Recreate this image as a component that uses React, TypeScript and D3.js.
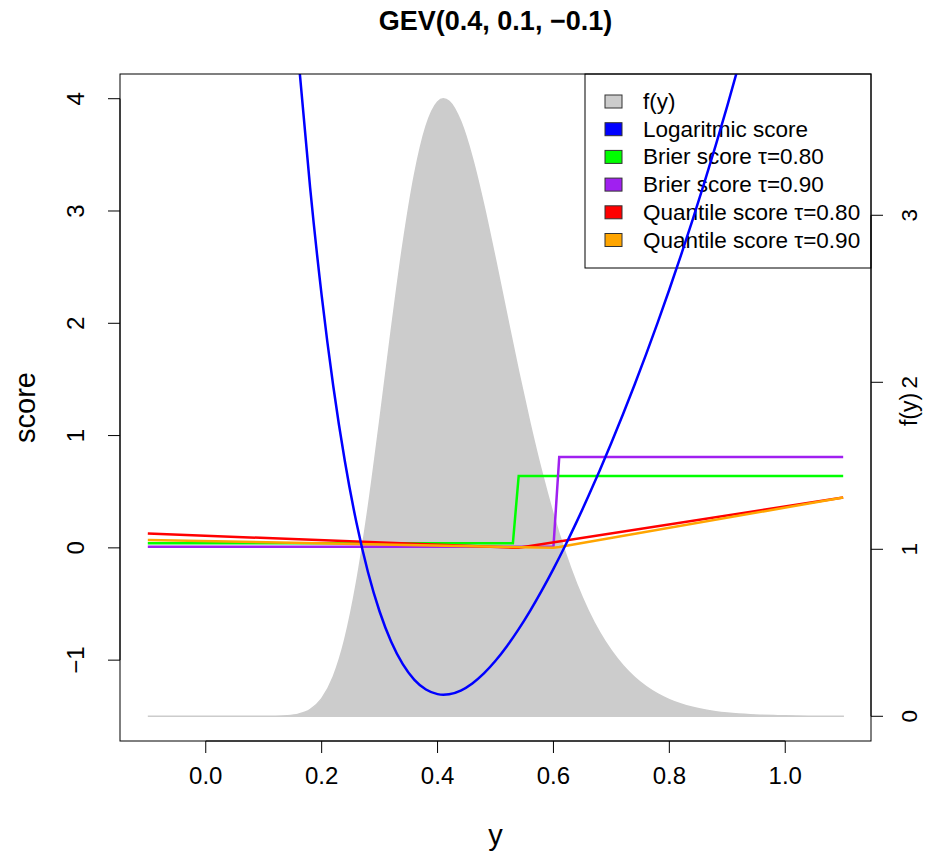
import React from 'react';
import * as d3 from 'd3';

// ---- data ----
const densityX = [-0.1, -0.08, -0.06, -0.04, -0.02, 0.0, 0.02, 0.04, 0.06, 0.08, 0.1, 0.12, 0.14, 0.16, 0.18, 0.2, 0.22, 0.24, 0.26, 0.28, 0.3, 0.32, 0.34, 0.36, 0.38, 0.4, 0.41, 0.42, 0.44, 0.46, 0.48, 0.5, 0.52, 0.54, 0.56, 0.58, 0.6, 0.62, 0.64, 0.66, 0.68, 0.7, 0.72, 0.74, 0.76, 0.78, 0.8, 0.82, 0.84, 0.86, 0.88, 0.9, 0.92, 0.94, 0.96, 0.98, 1.0, 1.02, 1.04, 1.06, 1.08, 1.1];
const densityF = [0, 0, 0, 0, 0, 0, 0, 0, 0, 0.000013, 0.000109, 0.000688, 0.003334, 0.01283, 0.04025, 0.1056, 0.23656, 0.46158, 0.7982, 1.24197, 1.7623, 2.30778, 2.81837, 3.23923, 3.53192, 3.67879, 3.698, 3.68286, 3.56211, 3.34377, 3.058, 2.73378, 2.39555, 2.0625, 1.74804, 1.46093, 1.20553, 0.98328, 0.79335, 0.63355, 0.50087, 0.3923, 0.30436, 0.23393, 0.17807, 0.13425, 0.10018, 0.07395, 0.054, 0.03896, 0.02776, 0.01951, 0.01351, 0.00921, 0.00618, 0.00407, 0.00262, 0.00165, 0.00102, 0.00061, 0.00035, 0.0002];

const logX = [0.1, 0.12, 0.14, 0.16, 0.18, 0.2, 0.22, 0.24, 0.26, 0.28, 0.3, 0.32, 0.34, 0.36, 0.38, 0.4, 0.41, 0.42, 0.44, 0.46, 0.48, 0.5, 0.52, 0.54, 0.56, 0.58, 0.6, 0.62, 0.64, 0.66, 0.68, 0.7, 0.72, 0.74, 0.76, 0.78, 0.8, 0.82, 0.84, 0.86, 0.88, 0.9, 0.92, 0.94, 0.96, 0.98];
const logScore = [9.1219, 7.2816, 5.7031, 4.3558, 3.2124, 2.2483, 1.4416, 0.7731, 0.2254, -0.2167, -0.5666, -0.8363, -1.0362, -1.1753, -1.2618, -1.3026, -1.3078, -1.3037, -1.2704, -1.2071, -1.1178, -1.0057, -0.8736, -0.7239, -0.5585, -0.3791, -0.1869, 0.0169, 0.2315, 0.4564, 0.6914, 0.9357, 1.1895, 1.4527, 1.7255, 2.0081, 2.3009, 2.6043, 2.9188, 3.2452, 3.5842, 3.9367, 4.3038, 4.6866, 5.0865, 5.5049];

const brier80X = [-0.1, 0.53, 0.54, 1.1];
const brier80 = [0.04, 0.04, 0.64, 0.64];
const brier90X = [-0.1, 0.6, 0.61, 1.1];
const brier90 = [0.01, 0.01, 0.81, 0.81];
const quant80X = [-0.1, 0.53, 0.54, 1.1];
const quant80 = [0.1279, 0.0019, 0.0006, 0.4486];
const quant90X = [-0.1, 0.6, 0.61, 1.1];
const quant90 = [0.0702, 0.0002, 0.0076, 0.4486];

const xTicks = [0, 0.2, 0.4, 0.6, 0.8, 1.0];
const scoreTicks = [-1, 0, 1, 2, 3, 4];
const fTicks = [0, 1, 2, 3];
const legendLabels = ['f(y)', 'Logaritmic score', 'Brier score \u03c4=0.80', 'Brier score \u03c4=0.90', 'Quantile score \u03c4=0.80', 'Quantile score \u03c4=0.90'];
const legendColors = ['#CCCCCC', '#0000FF', '#00FF00', '#A020F0', '#FF0000', '#FFA500'];
const title = 'GEV(0.4, 0.1, \u22120.1)';

const W = 927, H = 855;
const L = 120, R = 871, T = 74, B = 741;
const FONT = 'Liberation Sans, Arial, Helvetica, sans-serif';

export default function App() {
  const xMin = -0.1, xMax = 1.1;
  const xPad = (xMax - xMin) * 0.04;
  const x = d3.scaleLinear().domain([xMin - xPad, xMax + xPad]).range([L, R]);
  const sMin = -1.5, sMax = 4;
  const sPad = (sMax - sMin) * 0.04;
  const y = d3.scaleLinear().domain([sMin - sPad, sMax + sPad]).range([B, T]);
  const fMax = d3.max(densityF) as number;
  const fPad = fMax * 0.04;
  const yf = d3.scaleLinear().domain([-fPad, fMax + fPad]).range([B, T]);

  const area = d3.area<number>()
    .x((_, i) => x(densityX[i]))
    .y0(() => yf(0))
    .y1((d) => yf(d))
    .curve(d3.curveMonotoneX);

  const mkLine = (xs: number[], curve = d3.curveLinear) =>
    d3.line<number>().x((_, i) => x(xs[i])).y((d) => y(d)).curve(curve);

  const lines = [
    { xs: brier80X, vs: brier80, c: legendColors[2] },
    { xs: brier90X, vs: brier90, c: legendColors[3] },
    { xs: quant80X, vs: quant80, c: legendColors[4] },
    { xs: quant90X, vs: quant90, c: legendColors[5] },
  ];

  const tickLen = 12;
  const lgX = 585, lgY = 74, lgW = R - 585, lgH = 194;
  const rowH = 27.7;

  return (
    <svg width={W} height={H} style={{ position: 'absolute', left: 0, top: 0, background: '#fff' }} fontFamily={FONT}>
      <defs>
        <clipPath id="plotclip">
          <rect x={L} y={T} width={R - L} height={B - T} />
        </clipPath>
      </defs>
      <rect x={0} y={0} width={W} height={H} fill="#fff" />
      {/* density */}
      <path d={area(densityF) || ''} fill="#CCCCCC" stroke="#CCCCCC" strokeWidth={1.5} clipPath="url(#plotclip)" />

      {/* legend */}
      <rect x={lgX} y={lgY} width={lgW} height={lgH} fill="#fff" stroke="#000" strokeWidth={1} />
      {legendLabels.map((lab, i) => {
        const cy = 101.5 + i * rowH;
        return (
          <g key={lab}>
            <rect x={605} y={cy - 6.5} width={17} height={13} fill={legendColors[i]} stroke="#333" strokeWidth={1} />
            <text x={643} y={cy} dominantBaseline="central" fontSize={22.5} fill="#000">{lab}</text>
          </g>
        );
      })}

      {/* score lines */}
      <g clipPath="url(#plotclip)" fill="none" strokeWidth={2.5}>
        {lines.map((l, i) => (
          <path key={i} d={mkLine(l.xs)(l.vs) || ''} stroke={l.c} />
        ))}
        <path d={mkLine(logX, d3.curveMonotoneX)(logScore) || ''} stroke={legendColors[1]} />
      </g>

      {/* box */}
      <rect x={L} y={T} width={R - L} height={B - T} fill="none" stroke="#000" strokeWidth={1} />

      {/* bottom axis */}
      <line x1={x(xTicks[0])} x2={x(xTicks[xTicks.length - 1])} y1={B} y2={B} stroke="#000" />
      {xTicks.map((t) => (
        <g key={t}>
          <line x1={x(t)} x2={x(t)} y1={B} y2={B + tickLen} stroke="#000" />
          <text x={x(t)} y={784} textAnchor="middle" fontSize={24}>{t.toFixed(1)}</text>
        </g>
      ))}
      <text x={(L + R) / 2} y={845} textAnchor="middle" fontSize={29}>y</text>

      {/* left axis */}
      <line x1={L} x2={L} y1={y(scoreTicks[0])} y2={y(scoreTicks[scoreTicks.length - 1])} stroke="#000" />
      {scoreTicks.map((t) => (
        <g key={t}>
          <line x1={L} x2={L - tickLen} y1={y(t)} y2={y(t)} stroke="#000" />
          <text transform={`translate(${84},${y(t)}) rotate(-90)`} textAnchor="middle" fontSize={24}>{t < 0 ? '\u2212' + Math.abs(t) : String(t)}</text>
        </g>
      ))}
      <text transform={`translate(${35},${(T + B) / 2}) rotate(-90)`} textAnchor="middle" fontSize={29}>score</text>

      {/* right axis */}
      <line x1={R} x2={R} y1={yf(fTicks[0])} y2={yf(fTicks[fTicks.length - 1])} stroke="#000" />
      {fTicks.map((t) => (
        <g key={t}>
          <line x1={R} x2={R + tickLen} y1={yf(t)} y2={yf(t)} stroke="#000" />
          <text transform={`translate(${917},${yf(t)}) rotate(-90)`} textAnchor="middle" fontSize={22.5}>{String(t)}</text>
        </g>
      ))}
      <text transform={`translate(${917},${(T + B) / 2 + 2}) rotate(-90)`} textAnchor="middle" fontSize={23}>f(y)</text>

      {/* title */}
      <text x={(L + R) / 2} y={30} textAnchor="middle" fontSize={27} fontWeight="bold">{title}</text>
    </svg>
  );
}
